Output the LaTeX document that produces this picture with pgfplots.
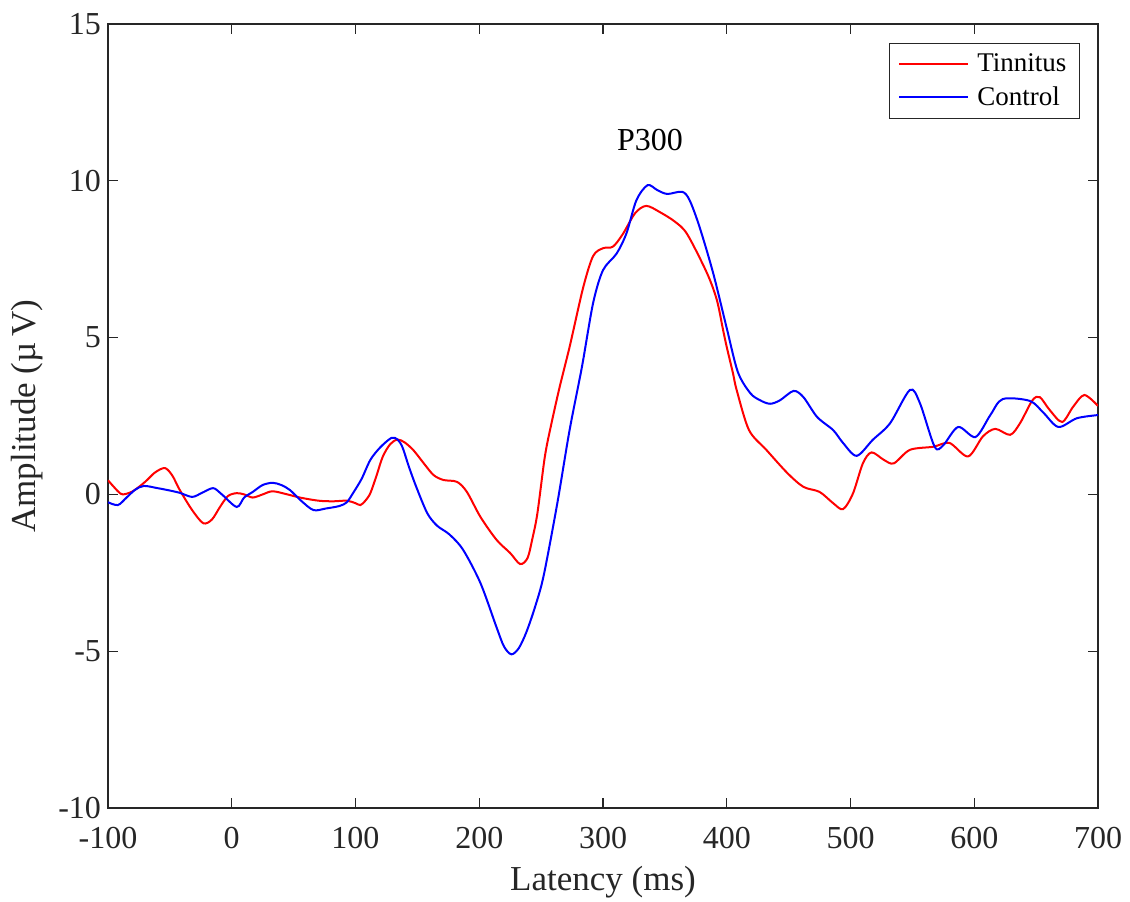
\documentclass[border=0pt]{standalone}
\usepackage{fontspec}
\setmainfont{Liberation Serif}
\usepackage{pgfplots}
\pgfplotsset{compat=1.18}
\begin{document}
\begin{tikzpicture}[x=1pt,y=1pt]
\useasboundingbox (-54,-46.5) rectangle (511,404);
\begin{axis}[
  at={(0,0)}, anchor=south west,
  scale only axis, width=495pt, height=392pt,
  xmin=-100, xmax=700, ymin=-10, ymax=15,
  xtick={-100,0,...,700}, ytick={-10,-5,...,15},
  /pgf/number format/assume math mode=true,
  tick align=inside, major tick length=5pt,
  axis line style={color=black!85, line width=0.6pt},
  every tick/.style={color=black!85, line width=0.6pt},
  ticklabel style={font=\fontsize{16}{19}\selectfont, text=black!85},
  xticklabel style={anchor=base, yshift=-20pt},
  every axis x label/.style={at={(axis description cs:0.5,-0.1046)}, anchor=base, font=\fontsize{17.5}{21}\selectfont, text=black!85},
  every axis y label/.style={at={(axis description cs:-0.0818,0.5)}, rotate=90, anchor=center, font=\fontsize{17.5}{21}\selectfont, text=black!85},
  xlabel={Latency (ms)},
  ylabel={Amplitude (µ\,V)},
  legend style={at={(axis description cs:1,1)}, anchor=north east, xshift=-9pt, yshift=-9.5pt,
    draw=black!85, line width=0.6pt, font=\fontsize{13.5}{16}\selectfont, inner xsep=4.5pt, inner ysep=3pt, row sep=2pt},
  legend cell align=left,
  legend image code/.code={\draw[#1] (0pt,0pt) -- (34.5pt,0pt); \path (36.5pt,0pt);},
  clip=true,
]
\addplot[color=red, line width=1pt, smooth, tension=0.5] coordinates {
(-100,0.45) (-92,0.1) (-88,0.0) (-80,0.1) (-70,0.4) (-62,0.7) (-54,0.84) (-48,0.6) (-42,0.14)
(-32,-0.5) (-23,-0.92) (-16,-0.8) (-9.5,-0.4) (-3,-0.05) (4,0.04) (10,0.0) (17,-0.1) (25,0.0)
(33,0.1) (45,0.0) (55,-0.1) (70,-0.2) (82,-0.22) (93,-0.2) (100,-0.28) (104,-0.34) (108,-0.2)
(112,0.04) (117,0.6) (122,1.2) (128,1.6) (134,1.75) (140,1.65) (147,1.4) (155,1.0) (163,0.62)
(171,0.46) (182,0.4) (190,0.08) (201,-0.72) (214,-1.45) (225,-1.87) (233,-2.22) (239,-2.03)
(243,-1.4) (247,-0.6) (253,1.2) (258,2.2) (265,3.43) (273,4.7) (284,6.6) (292,7.6) (300,7.85)
(308,7.9) (316,8.3) (326,8.97) (335,9.2) (346,9.0) (358,8.7) (368,8.3) (384,7.06) (392,6.2)
(397,5.25) (400,4.7) (405,3.87) (408,3.33) (418,2.05) (432,1.42) (449,0.68) (462,0.24) (475,0.08)
(486,-0.28) (494,-0.47) (502,0.03) (510,0.99) (517,1.34) (527,1.1) (535,0.99) (548,1.42) (567,1.52)
(580,1.64) (595,1.21) (607,1.85) (617,2.09) (629,1.9) (637,2.27) (647,3.0) (653,3.1) (661,2.69)
(671,2.31) (680,2.8) (689,3.17) (700,2.82)
};
\addlegendentry{Tinnitus}
\addplot[color=blue, line width=1pt, smooth, tension=0.5] coordinates {
(-100,-0.25) (-92,-0.34) (-85,-0.1) (-78,0.15) (-71,0.27) (-60,0.2) (-52,0.14) (-42,0.05)
(-32,-0.08) (-24,0.05) (-15,0.2) (-8,0.0) (4,-0.4) (10,-0.1) (17,0.08) (25,0.3) (33,0.37)
(40,0.3) (47,0.14) (56,-0.2) (66,-0.5) (76,-0.45) (87,-0.37) (93,-0.25) (98,0.04) (105,0.5)
(112,1.1) (120,1.5) (129,1.8) (134,1.75) (138,1.5) (143,0.9) (149,0.25) (158,-0.6) (166,-1.0)
(176,-1.28) (187,-1.77) (201,-2.83) (214,-4.24) (220,-4.85) (226,-5.1) (232,-4.9) (238,-4.4)
(245,-3.6) (252,-2.6) (263,-0.3) (273,2.05) (283,4.07) (292,6.1) (300,7.15) (311,7.68) (319,8.33)
(327,9.38) (336,9.86) (344,9.7) (352,9.58) (364,9.65) (370,9.38) (378,8.53) (389,7.06) (400,5.3)
(409,3.9) (419,3.23) (427,3.0) (435,2.89) (443,3.0) (454,3.3) (462,3.1) (473,2.47) (486,2.05)
(494,1.64) (505,1.23) (518,1.74) (532,2.27) (548,3.33) (556,2.92) (568,1.52) (575,1.57) (587,2.15)
(601,1.83) (613,2.53) (623,3.04) (645,2.98) (656,2.6) (668,2.15) (683,2.43) (700,2.53)
};
\addlegendentry{Control}
\node[font=\fontsize{16}{19}\selectfont] at (axis cs:338,11.3) {P300};
\end{axis}
\end{tikzpicture}
\end{document}
